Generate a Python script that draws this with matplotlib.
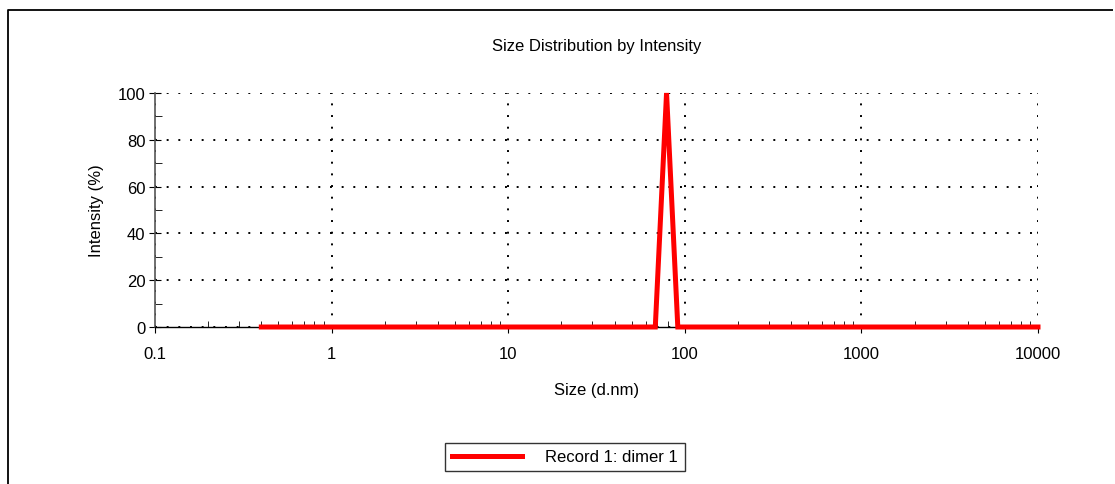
import matplotlib.pyplot as plt
from matplotlib.lines import Line2D
from matplotlib.ticker import FixedLocator, NullFormatter

plt.rcParams['font.family'] = ['Liberation Sans', 'DejaVu Sans']
plt.rcParams['font.size'] = 12

# size bins (d.nm) and intensity (%)
size_nm = [0.4, 68.06, 78.82, 91.28, 10000]
intensity = [0, 0, 100, 0, 0]
xticks = [0.1, 1, 10, 100, 1000, 10000]
xticklabels = ['0.1', '1', '10', '100', '1000', '10000']
yticks = [0, 20, 40, 60, 80, 100]

fig = plt.figure(figsize=(11.15, 4.85), dpi=100, edgecolor='white', linewidth=0)
W, H = 1115, 485
ax = fig.add_axes([155 / W, 1 - 328 / H, (1038 - 155) / W, (328 - 94) / H])

# outer frame of the report panel: only left and top edges fall inside the image
fx, fy = 7.5 / W, 1 - 11 / H
fig.lines.append(Line2D([fx, fx, 1113 / W], [0.0, fy, fy], transform=fig.transFigure,
                        color='black', linewidth=1.3, solid_capstyle='butt'))

ax.plot(size_nm, intensity, color='#ff0000', linewidth=3.6,
        solid_joinstyle='miter', label='Record 1: dimer 1', clip_on=False, zorder=5)

ax.set_xscale('log')
ax.set_xlim(0.1, 10000)
ax.set_ylim(0, 100)
ax.set_xticks(xticks)
ax.set_xticklabels(xticklabels)
ax.set_yticks(yticks)
ax.yaxis.set_minor_locator(FixedLocator([10, 30, 50, 70, 90]))
ax.xaxis.set_minor_formatter(NullFormatter())

ax.grid(True, which='major', linestyle=(0, (1, 5)), color='black', linewidth=1.4)
ax.spines['top'].set_visible(False)
ax.spines['right'].set_visible(False)
ax.spines['left'].set_color('#555555')
ax.spines['left'].set_linewidth(1.2)
ax.spines['bottom'].set_linewidth(1.0)

ax.tick_params(axis='y', which='major', direction='inout', length=8, pad=3)
ax.tick_params(axis='y', which='minor', direction='in', length=5)
ax.tick_params(axis='x', which='major', direction='out', length=4, pad=10)
ax.tick_params(axis='x', which='minor', direction='in', length=4)

ax.set_title('Size Distribution by Intensity', fontsize=12, pad=31)
ax.set_xlabel('Size (d.nm)', labelpad=15)
ax.set_ylabel('Intensity (%)', labelpad=10)

leg = fig.legend(loc='center', bbox_to_anchor=(565 / W, 1 - 458 / H),
                 frameon=True, fancybox=False, edgecolor='black',
                 handlelength=4.2, borderpad=0.4, borderaxespad=0,
                 handletextpad=1.4)
leg.get_frame().set_linewidth(1.0)

fig.savefig('out.png', dpi=100)
